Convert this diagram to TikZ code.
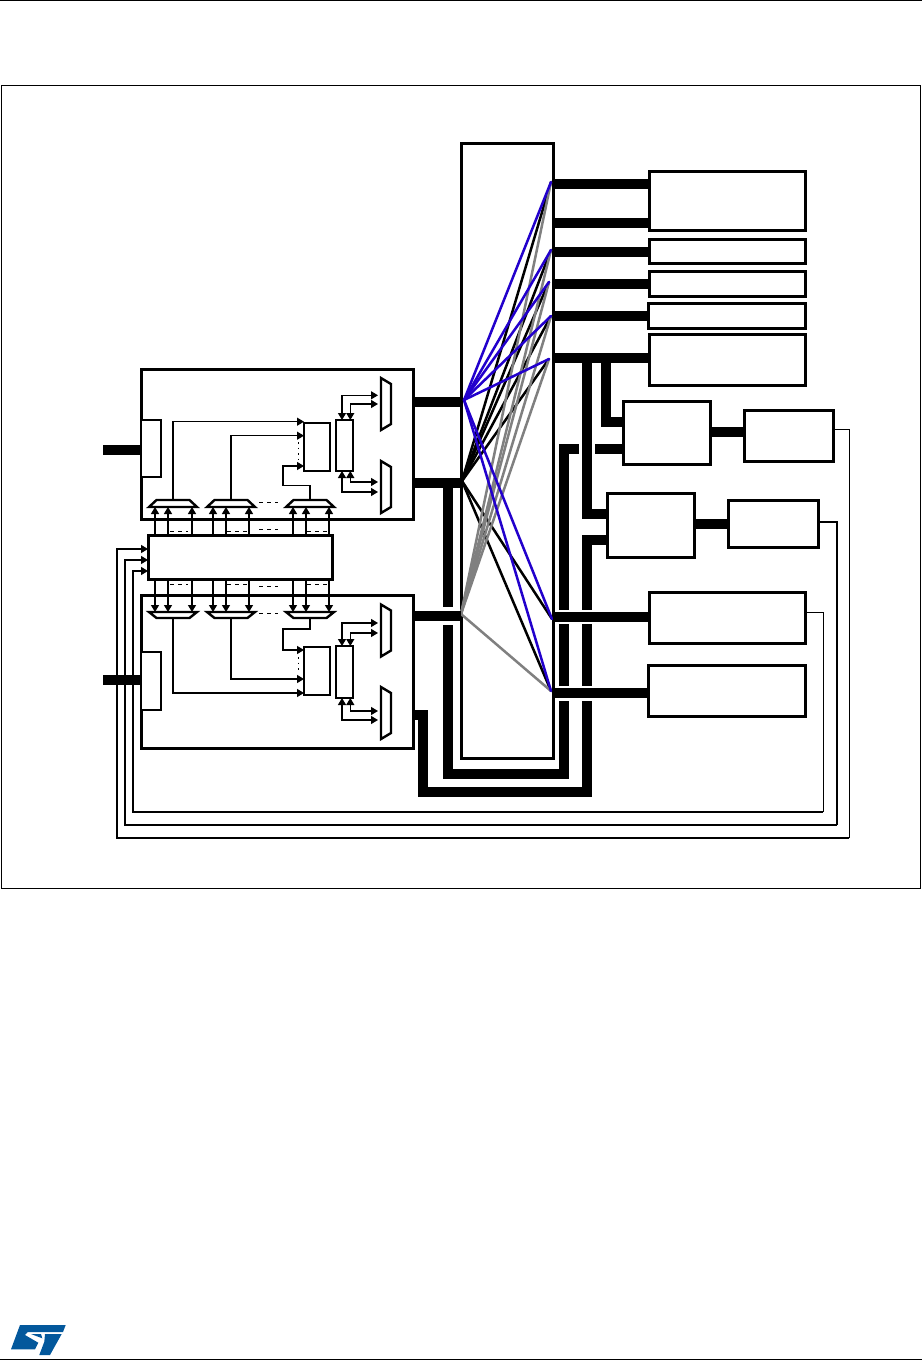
\documentclass[tikz,border=0pt]{standalone}
\usepackage{xcolor}
\usetikzlibrary{arrows.meta}
\definecolor{linkblue}{HTML}{2200CC}
\definecolor{linkgray}{HTML}{808080}
\definecolor{stblue}{HTML}{03589C}
\begin{document}
\begin{tikzpicture}[x=1pt,y=-1pt]
    \tikzset{
      block/.style={draw,fill=white,line width=3pt,inner sep=0pt,outer sep=0pt},
      small/.style={block,line width=2.6pt},
      mux/.style={draw,fill=white,line width=2.4pt},
      bus/.style={line width=10pt},
      sig/.style={line width=1.2pt,-{Triangle[length=7pt,width=8pt]}},
      duplex/.style={line width=1.2pt,{Triangle[length=7pt,width=8pt]}-{Triangle[length=7pt,width=8pt]}},
      gapline/.style={line width=0.8pt,dash pattern=on 4pt off 4pt},
      dotline/.style={line width=0.8pt,dash pattern=on 1.5pt off 4pt},
      link/.style={line width=2.5pt,line cap=round}
    }
    \useasboundingbox (0,0) rectangle (922,1361);
    \draw[line width=1pt] (0,0.5) -- (922,0.5);
    \draw[line width=1pt] (0,1359) -- (922,1359);
    \draw[line width=1pt] (1,85) rectangle (920,888);
    \foreach \name/\x/\y/\w/\h in {busmat/507/450.5/92/615,slavea/727/200.5/156/59,slaveb/727/251/156/24,slavec/727/283.5/156/25,slaved/726.5/315.5/157/25,slavee/727/359.5/156/51,cachea/666.5/432.5/87/63,ctrla/788.5/435.5/89/51,cacheb/650.5/525/87/64,ctrlb/773/523.5/90/47,slavef/727/617.5/156/51,slaveg/726.5/690.5/157/51,corea/277/444/272/150,coreb/277/671.5/272/153,switchbox/240/557/184/44} {
      \node[block,minimum width=\w pt,minimum height=\h pt] (\name) at (\x,\y) {};
    }
    \foreach \name/\x/\y/\w/\h in {porta/151/448.5/20/57,portb/151/681/20/58,fifoa/317/447/26/48,rega/344.5/445.5/17/51,fifob/317/671/26/48,regb/344.5/672/17/52} {
      \node[small,minimum width=\w pt,minimum height=\h pt] (\name) at (\x,\y) {};
    }
    \foreach \name/\x in {mxa/173,mxb/231,mxc/310} {
      \draw[mux] (\x-24,507) -- (\x+24,507) -- (\x+16.5,500) -- (\x-16.5,500) -- cycle;
      \coordinate (\name) at (\x,500);
    }
    \foreach \name/\x in {mxd/173,mxe/231,mxf/310} {
      \draw[mux] (\x-24,612) -- (\x+24,612) -- (\x+16.5,618) -- (\x-16.5,618) -- cycle;
      \coordinate (\name) at (\x,618);
    }
    \foreach \y in {404,487,630.5,713} {
      \draw[mux] (381,\y-26) -- (391,\y-20) -- (391,\y+20) -- (381,\y+26) -- cycle;
    }
    \foreach \name/\x/\y in {masta/464/400,mastb/462/481,mastc/461/614,slva/551/182,slvb/551/250,slvc/549/282,slvd/551/316,slve/549/359,slvf/552/619,slvg/551/691} {
      \coordinate (\name) at (\x,\y);
    }
    \foreach \s in {slva,slvb,slvc,slvd,slve,slvf,slvg} {
      \draw[link,black] (mastb) -- (\s);
    }
    \foreach \s in {slva,slvb,slvc,slvd,slve,slvg} {
      \draw[link,linkgray] (mastc) -- (\s);
    }
    \foreach \s in {slva,slvb,slvc,slvd,slve,slvf,slvg} {
      \draw[link,linkblue] (masta) -- (\s);
    }
    \draw[bus] (103,450) -- (porta.west |- 0,450);
    \draw[bus] (103,680) -- (portb.west |- 0,680);
    \draw[bus] (corea.east |- 0,402) -- (busmat.west |- 0,402);
    \draw[bus] (corea.east |- 0,483) -- (busmat.west |- 0,483);
    \draw[bus] (coreb.east |- 0,616) -- (busmat.west |- 0,616);
    \draw[bus] (447.5,483) -- (447.5,607);
    \draw[bus] (447.5,625) |- (564,774) -- (564,701);
    \draw[bus] (564,686) -- (564,624);
    \draw[bus] (564,610) |- (579,449);
    \draw[bus] (595,449) -- (cachea.west |- 0,449);
    \foreach \y/\s in {184/slavea,223/slavea,252/slaveb,284/slavec,316/slaved,358/slavee,617/slavef,693/slaveg} {
      \draw[bus] (busmat.east |- 0,\y) -- (\s.west |- 0,\y);
    }
    \draw[bus] (587,358) |- (cacheb.west |- 0,514);
    \draw[bus] (606,358) |- (cachea.west |- 0,421.7);
    \draw[bus] (cacheb.west |- 0,540) -| (587,610);
    \draw[bus] (587,624) -- (587,686);
    \draw[bus] (587,701) |- (423,792);
    \draw[bus] (coreb.east |- 0,715) -| (423,797);
    \draw[bus] (cachea.east |- 0,432) -- (ctrla.west |- 0,432);
    \draw[bus] (cacheb.east |- 0,524) -- (ctrlb.west |- 0,524);
    \draw[line width=1pt] (ctrla.east |- 0,429) -| (849,838);
    \draw[sig] (849,838) -| (117,549) -- (switchbox.west |- 0,549);
    \draw[line width=1.5pt] (ctrlb.east |- 0,522) -| (837,825);
    \draw[sig] (837,825) -| (125,560) -- (switchbox.west |- 0,560);
    \draw[line width=0.9pt] (slavef.east |- 0,612) -| (823,812);
    \draw[sig] (823,812) -| (133,571) -- (switchbox.west |- 0,571);
    \foreach \x in {155,168,192,213,226,249,293,306,329} {
      \draw[sig] (\x,0 |- switchbox.north) -- (\x,507);
      \draw[sig] (\x,0 |- switchbox.south) -- (\x,612);
    }
    \foreach \a/\b/\y in {170/188/531,227/247/531,259/278/529,307/327/531,170/188/584,227/247/584,259/278/586,307/327/584,259/278/502,259/278/613} {
      \draw[gapline] (\a,\y) -- (\b,\y);
    }
    \draw[dotline] (298,442) -- (298,460);
    \draw[dotline] (298,657) -- (298,673);
    \draw[sig] (mxa) |- (fifoa.west |- 0,421.7);
    \draw[sig] (mxb) |- (fifoa.west |- 0,435.7);
    \draw[sig] (mxc) |- (283,485.7) |- (fifoa.west |- 0,466);
    \draw[sig] (mxd) |- (fifob.west |- 0,693);
    \draw[sig] (mxe) |- (fifob.west |- 0,679);
    \draw[sig] (mxf) |- (283,629) |- (fifob.west |- 0,650);
    \draw[duplex] (rega.north -| 342,0) |- (378,395.3);
    \draw[duplex] (rega.north -| 350.3,0) |- (378,404);
    \draw[duplex] (rega.south -| 350.3,0) |- (378,482);
    \draw[duplex] (rega.south -| 342,0) |- (378,492);
    \draw[duplex] (regb.north -| 342,0) |- (378,623);
    \draw[duplex] (regb.north -| 350.3,0) |- (378,633);
    \draw[duplex] (regb.south -| 350.3,0) |- (378,711);
    \draw[duplex] (regb.south -| 342,0) |- (378,720);
    \fill[stblue] (20,1325) -- (65.7,1325) -- (63,1332) -- (27.7,1332) -- (25,1335) -- (38.3,1342.7) -- (35,1349.3) -- (11,1349.3) -- cycle;
    \fill[stblue] (31,1334) -- (41,1334) -- (42.3,1338.3) -- cycle;
    \fill[stblue] (45,1334) -- (61.7,1334) -- (50,1355) -- (39.3,1355) -- (44.3,1341.7) -- cycle;
  \end{tikzpicture}
\end{document}
